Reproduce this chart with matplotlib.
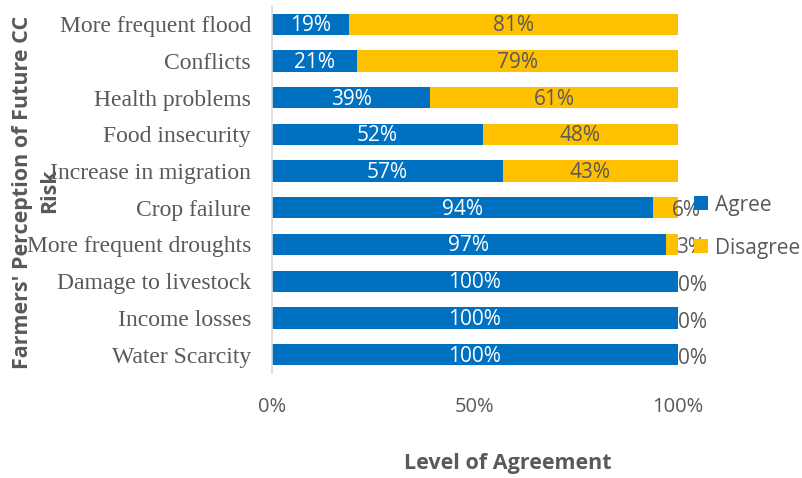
import matplotlib
matplotlib.use("Agg")
import matplotlib.pyplot as plt

categories = ["Water Scarcity", "Income losses", "Damage to livestock",
              "More frequent droughts", "Crop failure", "Increase in migration",
              "Food insecurity", "Health problems", "Conflicts", "More frequent flood"]
agree = [100, 100, 100, 97, 94, 57, 52, 39, 21, 19]
disagree = [0, 0, 0, 3, 6, 43, 48, 61, 79, 81]
x_ticks = [0, 50, 100]
x_tick_labels = ["0%", "50%", "100%"]

BLUE = "#0070C0"
GOLD = "#FFC000"
GRAY = "#595959"
SANS = ["Open Sans", "DejaVu Sans"]
SERIF = ["Liberation Serif", "DejaVu Serif"]

fig = plt.figure(figsize=(8.02, 4.78), dpi=100)
ax = fig.add_axes([0.339, 0.2197, 0.506, 0.768])

ypos = list(range(len(categories)))
h = 0.58
b1 = ax.barh(ypos, agree, height=h, color=BLUE, label="Agree")
b2 = ax.barh(ypos, disagree, left=agree, height=h, color=GOLD, label="Disagree")

ax.set_xlim(0, 100)
ax.set_ylim(-0.5, len(categories) - 0.5)
ax.set_xticks(x_ticks)
ax.set_xticklabels(x_tick_labels, fontfamily=SANS, fontsize=14.5, color=GRAY)
ax.set_yticks(ypos)
ax.set_yticklabels(categories, fontfamily=SERIF, fontsize=17, color=GRAY)
ax.tick_params(axis="both", length=0)
ax.tick_params(axis="x", pad=17)
ax.tick_params(axis="y", pad=15)
for s in ["top", "right", "bottom"]:
    ax.spines[s].set_visible(False)
ax.spines["left"].set_color("#D9D9D9")
ax.spines["left"].set_linewidth(1.2)

# offsets (points) for the labels of the thin disagree segments at the right edge
small_offsets = {6: (-4.5, -2), 3: (-1, -2), 0: (0.5, -3)}

for y, a, d in zip(ypos, agree, disagree):
    ax.annotate(f"{a}%", (a / 2, y), xytext=(0, -1), textcoords="offset points",
                ha="center", va="center", color="white",
                fontsize=15, fontfamily=SANS)
    if d >= 10:
        ax.annotate(f"{d}%", (a + d / 2, y), xytext=(0, -1), textcoords="offset points",
                    ha="center", va="center", color=GRAY,
                    fontsize=15, fontfamily=SANS)
    else:
        ax.annotate(f"{d}%", (a + d, y), xytext=small_offsets[d],
                    textcoords="offset points", ha="left", va="center",
                    color=GRAY, fontsize=15, fontfamily=SANS)

fig.text(0.633, 1 - 463 / 478, "Level of Agreement", ha="center", va="center",
         fontsize=15.5, fontweight="bold", color=GRAY, fontfamily=SANS)
fig.text(0.028, 0.598, "Farmers' Perception of Future CC", rotation=90,
         ha="center", va="center", fontsize=15.5, fontweight="bold",
         color=GRAY, fontfamily=SANS)
fig.text(0.062, 0.602, "Risk", rotation=90, ha="center", va="center",
         fontsize=15.5, fontweight="bold", color=GRAY, fontfamily=SANS)

leg = fig.legend(handles=[b1, b2], loc="upper left", bbox_to_anchor=(0.855, 0.61),
                 frameon=False, handlelength=0.65, handleheight=0.65,
                 handletextpad=0.35, labelspacing=1.05, borderaxespad=0,
                 prop={"family": SANS, "size": 15})
for t in leg.get_texts():
    t.set_color(GRAY)

fig.savefig("out.png", dpi=100)
